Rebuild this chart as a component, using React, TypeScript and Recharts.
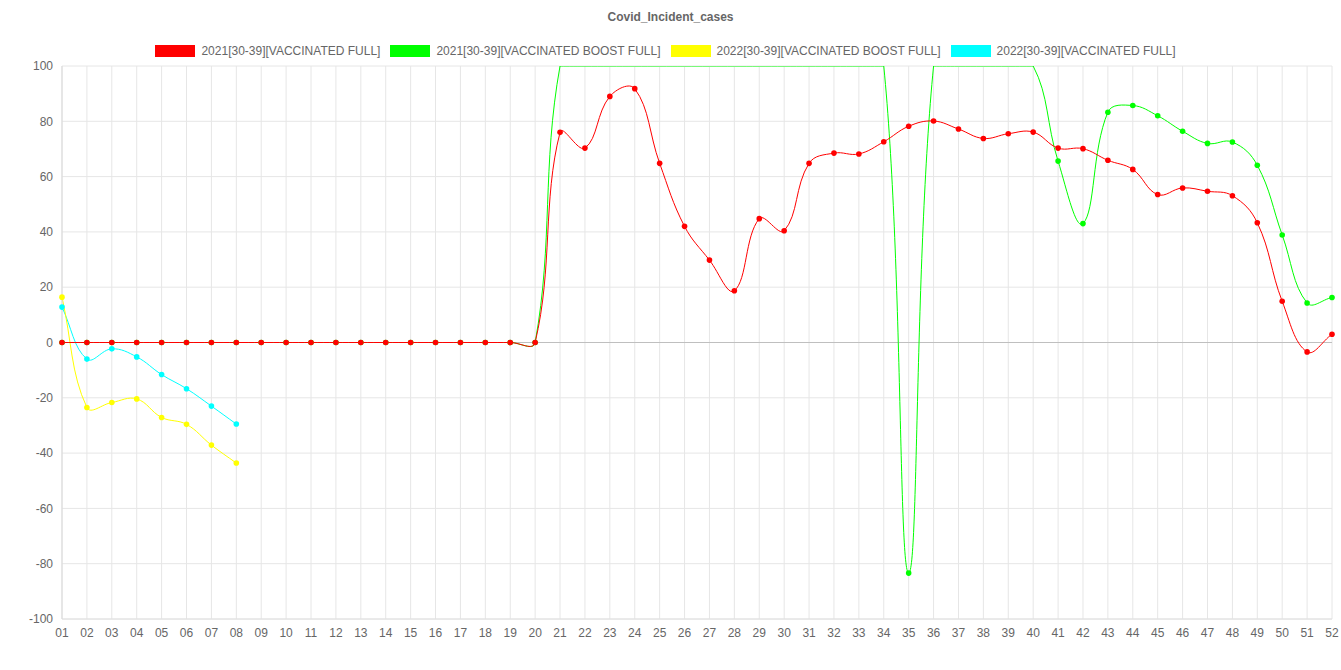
import React from "react";
import { CartesianGrid, Legend, Line, LineChart, ReferenceLine, XAxis, YAxis } from "recharts";

const weeks = [
  "01", "02", "03", "04", "05", "06", "07", "08", "09", "10", "11", "12", "13",
  "14", "15", "16", "17", "18", "19", "20", "21", "22", "23", "24", "25", "26",
  "27", "28", "29", "30", "31", "32", "33", "34", "35", "36", "37", "38", "39",
  "40", "41", "42", "43", "44", "45", "46", "47", "48", "49", "50", "51", "52",
];

// 2021 [30-39] vaccinated full
const full2021 = [
  0, 0, 0, 0, 0, 0, 0, 0, 0, 0, 0, 0, 0, 0, 0, 0, 0, 0, 0, 0,
  76, 70.3, 89, 91.8, 64.8, 42, 29.8, 18.7, 44.8, 40.4, 64.8, 68.5, 68.2, 72.6,
  78.2, 80.1, 77.2, 73.8, 75.5, 76.1, 70.3, 70.1, 65.9, 62.6, 53.5, 55.9, 54.7,
  53.1, 43.3, 14.9, -3.4, 3.0,
];

// 2021 [30-39] vaccinated boost full (values at 100 are cut off at the top of the axis)
const boost2021 = [
  0, 0, 0, 0, 0, 0, 0, 0, 0, 0, 0, 0, 0, 0, 0, 0, 0, 0, 0, 0,
  100, 100, 100, 100, 100, 100, 100, 100, 100, 100, 100, 100, 100, 100,
  -83.4, 100, 100, 100, 100, 100, 65.6, 43, 83.3, 85.7, 82, 76.4, 72,
  72.5, 64.1, 38.9, 14.3, 16.3,
];

// 2022 series only reach week 08
const boost2022 = [16.4, -23.5, -21.7, -20.4, -27.1, -29.6, -37.1, -43.6];
const full2022 = [12.8, -6.0, -2.3, -5.2, -11.6, -16.7, -23.0, -29.5];

const yTicks = [-100, -80, -60, -40, -20, 0, 20, 40, 60, 80, 100];

const series = [
  { key: "full2021", name: "2021[30-39][VACCINATED FULL]", color: "#ff0000" },
  { key: "boost2021", name: "2021[30-39][VACCINATED BOOST FULL]", color: "#00ff00" },
  { key: "boost2022", name: "2022[30-39][VACCINATED BOOST FULL]", color: "#ffff00" },
  { key: "full2022", name: "2022[30-39][VACCINATED FULL]", color: "#00ffff" },
];

const data = weeks.map((w, i) => ({
  week: w,
  full2021: full2021[i],
  boost2021: boost2021[i],
  boost2022: i < boost2022.length ? boost2022[i] : null,
  full2022: i < full2022.length ? full2022[i] : null,
}));

const W = 1341;
const H = 670;
const MARGIN = { top: 66, right: 9, bottom: 21, left: 0 };
const Y_AXIS_W = 62;
const X_AXIS_H = 30;
const PLOT_TOP = MARGIN.top;
const PLOT_BOTTOM = H - MARGIN.bottom - X_AXIS_H;
const PLOT_LEFT = MARGIN.left + Y_AXIS_W;
const PLOT_RIGHT = W - MARGIN.right;
const FONT = "'Liberation Sans', Arial, Helvetica, sans-serif";

// spline like chart.js (tension 0.4, control points kept inside the plot)
const TENSION = 0.4;
const clamp = (v: number, lo: number, hi: number) => Math.max(lo, Math.min(hi, v));

function splineCurve(context: any) {
  let xs: number[] = [];
  let ys: number[] = [];
  return {
    areaStart() {},
    areaEnd() {},
    lineStart() {
      xs = [];
      ys = [];
    },
    point(x: number, y: number) {
      xs.push(+x);
      ys.push(+y);
    },
    lineEnd() {
      const n = xs.length;
      if (!n) return;
      const prevCp: number[][] = [];
      const nextCp: number[][] = [];
      for (let i = 0; i < n; i++) {
        const p = i > 0 ? i - 1 : i;
        const q = i < n - 1 ? i + 1 : i;
        const d01 = Math.hypot(xs[i] - xs[p], ys[i] - ys[p]);
        const d12 = Math.hypot(xs[q] - xs[i], ys[q] - ys[i]);
        let s01 = d01 / (d01 + d12);
        let s12 = d12 / (d01 + d12);
        if (isNaN(s01)) s01 = 0;
        if (isNaN(s12)) s12 = 0;
        const fa = TENSION * s01;
        const fb = TENSION * s12;
        const dx = xs[q] - xs[p];
        const dy = ys[q] - ys[p];
        prevCp[i] = [
          clamp(xs[i] - fa * dx, PLOT_LEFT, PLOT_RIGHT),
          clamp(ys[i] - fa * dy, PLOT_TOP, PLOT_BOTTOM),
        ];
        nextCp[i] = [
          clamp(xs[i] + fb * dx, PLOT_LEFT, PLOT_RIGHT),
          clamp(ys[i] + fb * dy, PLOT_TOP, PLOT_BOTTOM),
        ];
      }
      context.moveTo(xs[0], ys[0]);
      if (n === 1) context.lineTo(xs[0], ys[0]);
      for (let i = 1; i < n; i++) {
        context.bezierCurveTo(
          nextCp[i - 1][0], nextCp[i - 1][1],
          prevCp[i][0], prevCp[i][1],
          xs[i], ys[i]
        );
      }
    },
  };
}

const makeDot = (color: string) => (props: any) => {
  const { cx, cy, value, index } = props;
  if (cx == null || cy == null || value == null || value >= 100) {
    return <g key={`d-${index}`} />;
  }
  return <circle key={`d-${index}`} cx={cx} cy={cy} r={2.8} fill={color} stroke="none" />;
};

function LegendBoxes() {
  return (
    <div
      style={{
        display: "flex",
        justifyContent: "center",
        alignItems: "center",
        fontFamily: FONT,
        fontSize: 12,
        color: "#666",
        height: 16,
      }}
    >
      {series.map((s) => (
        <div key={s.key} style={{ display: "flex", alignItems: "center", marginRight: 10 }}>
          <span style={{ display: "inline-block", width: 40, height: 12, background: s.color, marginRight: 6 }} />
          <span>{s.name}</span>
        </div>
      ))}
    </div>
  );
}

export default function App() {
  // red is drawn last so it sits on top, like the original
  const drawOrder = [...series].reverse();
  return (
    <div style={{ position: "absolute", left: 0, top: 0, width: W, height: H, background: "#fff" }}>
      <div
        style={{
          position: "absolute",
          top: 10,
          left: 0,
          width: W,
          textAlign: "center",
          fontFamily: FONT,
          fontSize: 12,
          fontWeight: "bold",
          color: "#666",
          lineHeight: "14px",
        }}
      >
        Covid_Incident_cases
      </div>
      <LineChart width={W} height={H} data={data} margin={MARGIN}>
        <CartesianGrid stroke="#e6e6e6" />
        <XAxis
          dataKey="week"
          interval={0}
          height={X_AXIS_H}
          tickSize={0}
          tickMargin={9}
          axisLine={{ stroke: "#e0e0e0" }}
          tick={{ fill: "#666", fontSize: 12, fontFamily: FONT }}
        />
        <YAxis
          domain={[-100, 100]}
          ticks={yTicks}
          allowDataOverflow
          width={Y_AXIS_W}
          tickSize={0}
          tickMargin={9}
          axisLine={{ stroke: "#d9d9d9" }}
          tick={{ fill: "#666", fontSize: 12, fontFamily: FONT }}
        />
        <ReferenceLine y={0} stroke="#bfbfbf" strokeWidth={1} />
        <Legend
          layout="horizontal"
          verticalAlign="middle"
          align="center"
          wrapperStyle={{ top: 43, left: 0, width: 1341 }}
          content={() => <LegendBoxes />}
        />
        {drawOrder.map((s) => (
          <Line
            key={s.key}
            dataKey={s.key}
            name={s.name}
            type={splineCurve as any}
            stroke={s.color}
            strokeWidth={1}
            dot={makeDot(s.color)}
            activeDot={false}
            connectNulls={false}
            isAnimationActive={false}
          />
        ))}
      </LineChart>
    </div>
  );
}
